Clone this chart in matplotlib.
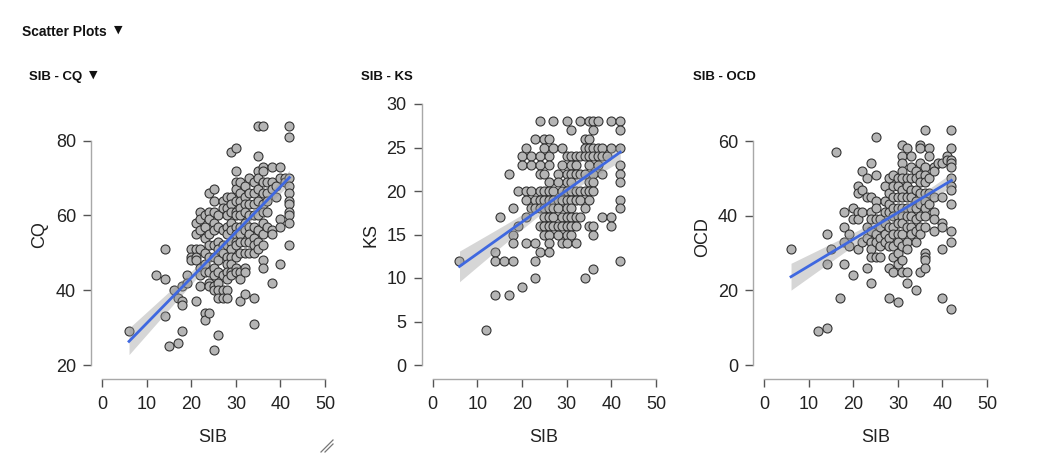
import numpy as np
import matplotlib
matplotlib.use("Agg")
import matplotlib.pyplot as plt
from matplotlib.lines import Line2D

plt.rcParams['font.family'] = ['Liberation Sans', 'DejaVu Sans']

# ---------------- data (SIB, score) ----------------
# visible points
pts_cq = [
    (6, 29), (12, 44), (14, 51), (14, 43), (14, 33), (15, 25), (16, 40), (17, 26), (17, 38),
    (18, 29), (18, 37), (18, 36), (18, 41), (19, 44), (19, 42),
    (20, 51), (20, 49), (20, 48),
    (21, 58), (21, 55), (21, 51), (21, 49), (21, 48), (21, 37),
    (22, 61), (22, 59), (22, 56), (22, 51), (22, 46), (22, 44), (22, 41),
    (23, 60), (23, 57), (23, 54), (23, 50), (23, 47), (23, 45), (23, 34), (23, 32),
    (24, 66), (24, 61), (24, 59), (24, 55), (24, 52), (24, 49), (24, 45), (24, 42), (24, 41), (24, 34),
    (25, 67), (25, 64), (25, 61), (25, 58), (25, 56), (25, 52), (25, 49), (25, 46), (25, 44), (25, 41), (25, 40), (25, 24),
    (26, 60), (26, 57), (26, 53), (26, 51), (26, 48), (26, 45), (26, 42), (26, 40), (26, 38), (26, 28),
    (27, 64), (27, 62), (27, 56), (27, 52), (27, 50), (27, 44), (27, 40), (27, 38),
    (28, 65), (28, 62), (28, 60), (28, 57), (28, 55), (28, 52), (28, 49), (28, 47), (28, 45), (28, 43), (28, 40), (28, 38),
    (29, 77), (29, 65), (29, 63), (29, 61), (29, 58), (29, 56), (29, 53), (29, 51), (29, 49), (29, 47), (29, 45), (29, 44),
    (30, 78), (30, 72), (30, 69), (30, 67), (30, 64), (30, 61), (30, 60), (30, 57), (30, 55), (30, 53), (30, 52), (30, 49), (30, 46), (30, 45),
    (31, 69), (31, 66), (31, 64), (31, 62), (31, 60), (31, 57), (31, 55), (31, 53), (31, 50), (31, 45), (31, 43), (31, 37),
    (32, 68), (32, 65), (32, 63), (32, 61), (32, 58), (32, 56), (32, 53), (32, 50), (32, 46), (32, 45), (32, 39),
    (33, 70), (33, 66), (33, 63), (33, 60), (33, 57), (33, 55), (33, 53), (33, 50),
    (34, 69), (34, 66), (34, 63), (34, 60), (34, 57), (34, 54), (34, 52), (34, 50), (34, 38), (34, 31),
    (35, 84), (35, 76), (35, 72), (35, 70), (35, 67), (35, 64), (35, 60), (35, 56), (35, 53), (35, 51),
    (36, 84), (36, 73), (36, 72), (36, 69), (36, 66), (36, 63), (36, 61), (36, 58), (36, 55), (36, 52), (36, 48), (36, 46),
    (37, 69), (37, 66), (37, 64), (37, 61), (37, 57),
    (38, 73), (38, 69), (38, 67), (38, 56), (38, 55), (38, 42),
    (39, 68), (39, 65),
    (40, 73), (40, 70), (40, 59), (40, 57), (40, 47),
    (41, 70), (41, 69),
    (42, 84), (42, 81), (42, 70), (42, 68), (42, 66), (42, 64), (42, 63), (42, 61), (42, 60), (42, 58), (42, 52),
]
# extra respondents hidden under visible markers: (SIB, CQ, count)
stacked_cq = [
    (18, 36, 2), (18, 37, 2), (22, 41, 2), (22, 44, 2), (23, 45, 2), (23, 47, 2),
    (24, 45, 2), (24, 42, 2), (25, 46, 2), (25, 44, 2), (26, 48, 2), (26, 45, 2),
    (27, 50, 2), (27, 52, 2), (28, 52, 2), (28, 55, 2), (29, 53, 2), (29, 56, 2),
    (30, 55, 2), (30, 57, 2), (31, 57, 2), (31, 60, 2), (32, 58, 2), (32, 61, 2),
    (33, 60, 2), (33, 63, 2), (34, 63, 2), (34, 66, 2), (35, 64, 3), (35, 67, 3),
    (36, 66, 3), (36, 69, 3), (37, 69, 2), (38, 69, 3), (38, 73, 3), (40, 73, 3),
    (40, 70, 3), (42, 81, 3), (42, 70, 3),
]

pts_ks = [
    (6, 12), (12, 4), (14, 13), (14, 12), (14, 8), (15, 17), (16, 12), (17, 22), (17, 8),
    (18, 18), (18, 15), (18, 14), (18, 12), (19, 16), (19, 20), (20, 9), (20, 24), (20, 23),
    (21, 25), (21, 20), (21, 19), (21, 17), (21, 14),
    (22, 24), (22, 23), (22, 20), (22, 18),
    (23, 26), (23, 19), (23, 18), (23, 14), (23, 12), (23, 10),
    (24, 28), (24, 24), (24, 23), (24, 22), (24, 20), (24, 19), (24, 18), (24, 16), (24, 13),
    (25, 26), (25, 25), (25, 22), (25, 20), (25, 19), (25, 18), (25, 17), (25, 16), (25, 15),
    (26, 26), (26, 24), (26, 23), (26, 21), (26, 20), (26, 19), (26, 18), (26, 17), (26, 16), (26, 15), (26, 14), (26, 13),
    (27, 28), (27, 25), (27, 20), (27, 19), (27, 18), (27, 17), (27, 16),
    (28, 22), (28, 21), (28, 19), (28, 18), (28, 16), (28, 15),
    (29, 25), (29, 23), (29, 20), (29, 19), (29, 17), (29, 16), (29, 14),
    (30, 28), (30, 24), (30, 22), (30, 21), (30, 20), (30, 19), (30, 18), (30, 17), (30, 16), (30, 15), (30, 14),
    (31, 27), (31, 24), (31, 23), (31, 22), (31, 21), (31, 20), (31, 19), (31, 18), (31, 17), (31, 16), (31, 15),
    (32, 24), (32, 23), (32, 22), (32, 20), (32, 19), (32, 17), (32, 16), (32, 14),
    (33, 28), (33, 24), (33, 22), (33, 20), (33, 19), (33, 17),
    (34, 26), (34, 25), (34, 24), (34, 22), (34, 20), (34, 18), (34, 10),
    (35, 28), (35, 26), (35, 25), (35, 24), (35, 23), (35, 21), (35, 20), (35, 19), (35, 16),
    (36, 28), (36, 27), (36, 25), (36, 24), (36, 22), (36, 21), (36, 20), (36, 16), (36, 15), (36, 11),
    (37, 28), (37, 25), (37, 24), (37, 23),
    (38, 25), (38, 24), (38, 22), (38, 17),
    (39, 24),
    (40, 28), (40, 25), (40, 17), (40, 16),
    (42, 28), (42, 27), (42, 25), (42, 23), (42, 22), (42, 21), (42, 19), (42, 18), (42, 12),
]
stacked_ks = [
    (18, 14, 2), (18, 12, 2), (19, 16, 2), (21, 14, 2), (21, 17, 2), (22, 18, 2),
    (23, 14, 2), (23, 18, 2), (24, 16, 1), (24, 18, 1), (25, 16, 1), (25, 17, 1),
    (26, 17, 1), (26, 18, 1), (27, 18, 1), (27, 19, 1), (28, 18, 1), (28, 19, 1),
    (29, 19, 1), (29, 20, 1), (30, 20, 1), (30, 21, 1), (31, 20, 1), (31, 21, 1),
    (32, 22, 1), (32, 20, 1), (33, 22, 1), (33, 24, 1), (34, 22, 1), (34, 24, 1),
    (35, 24, 1), (35, 25, 1), (36, 24, 1), (36, 25, 1), (37, 25, 2), (37, 24, 2),
    (38, 25, 2), (38, 24, 2), (40, 25, 2), (40, 28, 1), (42, 27, 2), (42, 28, 1),
]

pts_ocd = [
    (6, 31), (12, 9), (14, 10), (14, 35), (14, 27), (15, 31), (16, 57), (17, 18),
    (18, 41), (18, 37), (18, 33), (18, 27),
    (19, 35), (19, 32),
    (20, 42), (20, 39), (20, 24),
    (21, 48), (21, 46), (21, 41), (21, 39), (21, 31),
    (22, 52), (22, 47), (22, 41), (22, 33),
    (23, 50), (23, 45), (23, 37), (23, 34), (23, 26),
    (24, 54), (24, 45), (24, 41), (24, 39), (24, 36), (24, 33), (24, 31), (24, 29), (24, 22),
    (25, 61), (25, 51), (25, 44), (25, 42), (25, 39), (25, 35), (25, 33), (25, 29),
    (26, 39), (26, 37), (26, 34), (26, 32), (26, 29),
    (27, 48), (27, 44), (27, 41), (27, 38), (27, 35), (27, 33),
    (28, 50), (28, 46), (28, 43), (28, 41), (28, 37), (28, 34), (28, 32), (28, 26), (28, 18),
    (29, 51), (29, 48), (29, 45), (29, 42), (29, 40), (29, 37), (29, 35), (29, 32), (29, 29), (29, 25),
    (30, 50), (30, 48), (30, 45), (30, 42), (30, 40), (30, 38), (30, 35), (30, 33), (30, 30), (30, 27), (30, 17),
    (31, 59), (31, 56), (31, 54), (31, 52), (31, 50), (31, 47), (31, 45), (31, 42), (31, 40), (31, 38), (31, 35), (31, 32), (31, 28), (31, 25),
    (32, 58), (32, 50), (32, 48), (32, 45), (32, 42), (32, 40), (32, 37), (32, 33), (32, 31), (32, 25), (32, 22),
    (33, 56), (33, 53), (33, 50), (33, 47), (33, 45), (33, 42), (33, 40), (33, 37), (33, 35),
    (34, 52), (34, 50), (34, 47), (34, 44), (34, 42), (34, 39), (34, 36), (34, 33), (34, 20),
    (35, 59), (35, 58), (35, 54), (35, 51), (35, 49), (35, 46), (35, 43), (35, 40), (35, 37), (35, 35), (35, 25),
    (36, 63), (36, 53), (36, 51), (36, 49), (36, 46), (36, 44), (36, 42), (36, 40), (36, 37), (36, 30), (36, 29), (36, 28), (36, 26),
    (37, 58), (37, 56), (37, 50), (37, 46), (37, 43),
    (38, 53), (38, 52), (38, 45), (38, 41), (38, 39), (38, 36),
    (39, 54),
    (40, 54), (40, 45), (40, 38), (40, 37), (40, 31), (40, 18),
    (41, 56), (41, 55),
    (42, 63), (42, 58), (42, 55), (42, 54), (42, 53), (42, 50), (42, 48), (42, 47), (42, 43), (42, 36), (42, 33), (42, 15),
]
stacked_ocd = [
    (18, 27, 2), (18, 33, 3), (19, 32, 3), (21, 31, 3), (22, 33, 2), (23, 34, 2),
    (23, 37, 2), (24, 33, 2), (24, 36, 2), (25, 35, 2), (25, 33, 2), (26, 37, 2),
    (26, 34, 2), (27, 38, 2), (27, 41, 2), (28, 37, 2), (28, 41, 2), (29, 40, 2),
    (29, 42, 2), (30, 40, 2), (30, 42, 2), (31, 42, 2), (31, 45, 2), (32, 42, 2),
    (32, 45, 2), (33, 45, 2), (33, 47, 2), (34, 44, 2), (34, 47, 2), (35, 46, 2),
    (35, 49, 2), (36, 46, 2), (36, 49, 2), (37, 50, 2), (37, 46, 2), (38, 52, 2),
    (38, 53, 2), (40, 54, 3), (41, 55, 3), (41, 56, 3), (42, 54, 3), (42, 55, 3),
]

x_label = "SIB"
y_labels = ["CQ", "KS", "OCD"]
panel_titles = ["SIB - CQ", "SIB - KS", "SIB - OCD"]
x_ticks = [0, 10, 20, 30, 40, 50]
y_ticks = [[20, 40, 60, 80], [0, 5, 10, 15, 20, 25, 30], [0, 20, 40, 60]]

# ---------------- layout ----------------
W, H = 1047, 472
fig = plt.figure(figsize=(W / 100, H / 100), dpi=100)


def fx(px):
    return px / W


def fy(py):
    return 1 - py / H


# axes boxes in pixels: (left, right, top, bottom)
boxes = [(102.3, 325.0, 140.7, 365.0),
         (432.7, 656.0, 104.0, 365.0),
         (764.3, 987.0, 141.0, 365.0)]
ylabel_pos = [(39.5, 235), (371, 235), (703, 237)]
xlabel_x = [213, 544, 876]
title_pos = [29, 361, 693]

POINT_FACE = '#b5b5b5'
POINT_EDGE = '#333333'
LINE_COLOR = '#3f68e0'
AXIS_COLOR = '#a8a8a8'
TICK_COLOR = '#555555'

datasets = [(pts_cq, stacked_cq), (pts_ks, stacked_ks), (pts_ocd, stacked_ocd)]

for i, (pts, stacked) in enumerate(datasets):
    l, r, t, b = boxes[i]
    ax = fig.add_axes([fx(l), fy(b), (r - l) / W, (b - t) / H])
    vx = np.array([p[0] for p in pts], dtype=float)
    vy = np.array([p[1] for p in pts], dtype=float)
    sx = np.array([p[0] for p in stacked for _ in range(p[2])], dtype=float)
    sy = np.array([p[1] for p in stacked for _ in range(p[2])], dtype=float)
    xs = np.concatenate([vx, sx])
    ys = np.concatenate([vy, sy])

    # stacked respondents sit exactly under visible markers, so draw each position once
    ax.scatter(vx, vy, s=42, facecolor=POINT_FACE, edgecolor=POINT_EDGE,
               linewidth=0.8, zorder=3, clip_on=False)

    # linear fit with 95% confidence band (all respondents)
    n = len(xs)
    slope, intercept = np.polyfit(xs, ys, 1)
    resid = ys - (slope * xs + intercept)
    s_err = np.sqrt(np.sum(resid ** 2) / (n - 2))
    xbar = xs.mean()
    sxx = np.sum((xs - xbar) ** 2)
    grid = np.linspace(xs.min(), xs.max(), 120)
    fit = slope * grid + intercept
    se = s_err * np.sqrt(1.0 / n + (grid - xbar) ** 2 / sxx)
    ax.fill_between(grid, fit - 1.97 * se, fit + 1.97 * se, color='#999999',
                    alpha=0.4, linewidth=0, zorder=4, clip_on=False)
    ax.plot(grid, fit, color=LINE_COLOR, linewidth=2.0, zorder=5, clip_on=False)

    yt = y_ticks[i]
    ax.set_xlim(x_ticks[0], x_ticks[-1])
    ax.set_ylim(yt[0], yt[-1])
    ax.set_xticks(x_ticks)
    ax.set_yticks(yt)

    for side in ('top', 'right'):
        ax.spines[side].set_visible(False)
    ax.spines['left'].set_position(('outward', 8))
    ax.spines['bottom'].set_position(('outward', 10))
    ax.spines['left'].set_bounds(yt[0], yt[-1])
    ax.spines['bottom'].set_bounds(x_ticks[0], x_ticks[-1])
    for side in ('left', 'bottom'):
        ax.spines[side].set_color(AXIS_COLOR)
        ax.spines[side].set_linewidth(1.0)
    ax.tick_params(axis='both', direction='out', length=6, width=1.0,
                   color=TICK_COLOR, labelsize=13, labelcolor='#222222')
    ax.tick_params(axis='y', pad=5)
    ax.tick_params(axis='x', pad=6)
    ax.patch.set_visible(False)

    fig.text(fx(ylabel_pos[i][0]), fy(ylabel_pos[i][1]), y_labels[i], rotation=90,
             ha='center', va='center', fontsize=13, color='#222222')
    fig.text(fx(xlabel_x[i]), fy(438), x_label, ha='center', va='center',
             fontsize=13, color='#222222')
    fig.text(fx(title_pos[i]), fy(80), panel_titles[i], ha='left', va='baseline',
             fontsize=9.5, fontweight='bold', color='#111111')

# section title and dropdown arrows
fig.text(fx(22), fy(36), "Scatter Plots", ha='left', va='baseline', fontsize=10,
         fontweight='bold', color='#111111')
fig.text(fx(114), fy(33), "\u25BC", ha='left', va='baseline', fontsize=8,
         family='DejaVu Sans', color='#111111')
fig.text(fx(89), fy(78), "\u25BC", ha='left', va='baseline', fontsize=8,
         family='DejaVu Sans', color='#111111')

# resize grip
fig.add_artist(Line2D([fx(321), fx(333)], [fy(452), fy(440)], color='#777777', linewidth=0.9))
fig.add_artist(Line2D([fx(325), fx(333)], [fy(452), fy(444)], color='#777777', linewidth=0.9))

fig.savefig("out.png", dpi=100, facecolor='white')
